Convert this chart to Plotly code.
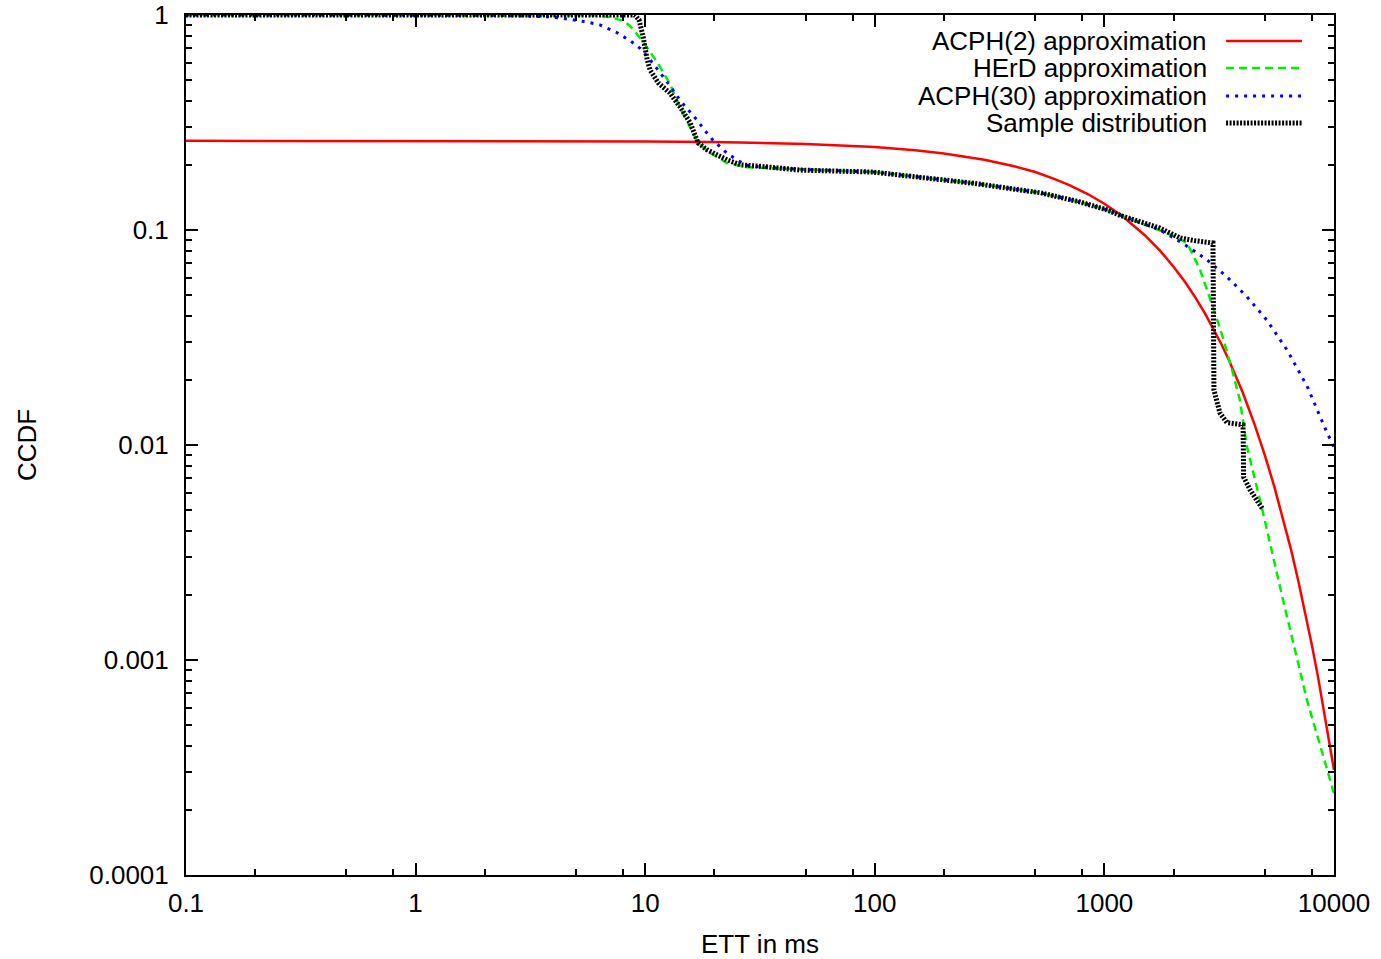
import plotly.graph_objects as go

# ---------------- data ----------------
acph2_x = [0.1, 1, 10, 20, 50, 100, 150, 200, 300, 400, 500, 600, 700, 850, 1000, 1200,
           1500, 1750, 2000, 2250, 2500, 2750, 3000, 3250, 3500, 3750, 4000, 4500, 5000,
           5500, 6000, 6500, 7000, 7500, 8000, 8500, 9000, 9500, 10000]
acph2_y = [0.26, 0.26, 0.258, 0.2565, 0.2514, 0.243, 0.235, 0.227, 0.212, 0.1986, 0.186,
           0.1735, 0.162, 0.1466, 0.1325, 0.1158, 0.0946, 0.080, 0.0675, 0.0571, 0.0482,
           0.0407, 0.0344, 0.0291, 0.0246, 0.0208, 0.0176, 0.01253, 0.00895, 0.00639,
           0.00456, 0.00326, 0.00232, 0.00166, 0.00118, 0.000846, 0.0006, 0.000431,
           0.000308]

herd_x = [0.1, 5, 6, 7, 8, 8.6, 9.8, 11.2, 12.8, 14.2, 15.7, 17, 19.2, 22.7, 27.7, 38.6,
          50, 100, 270, 525, 780, 1000, 1200, 1500, 1750, 2000, 2291, 2600, 2972, 3300,
          3630, 3890, 4180, 4910, 6000, 7630, 10000]
herd_y = [1.0, 1.0, 0.998, 0.98, 0.94, 0.89, 0.75, 0.61, 0.48, 0.37, 0.30, 0.254, 0.228,
          0.205, 0.196, 0.194, 0.191, 0.186, 0.165, 0.149, 0.135, 0.125, 0.116, 0.106,
          0.100, 0.094, 0.087, 0.066, 0.0438, 0.031, 0.0216, 0.0162, 0.0098, 0.00483,
          0.0019, 0.00065, 0.00024]

acph30_x = [0.1, 1, 2, 3, 3.85, 4.7, 5.5, 6.35, 7.5, 8.6, 9.5, 10.5, 11.6, 12.8, 14.2, 15.5,
            16.8, 18.2, 19.7, 22.7, 25, 27.7, 32, 38.6, 50, 100, 270, 525, 780, 1000, 1200,
            1500, 1750, 2070, 2360, 2800, 3420, 4180, 5100, 6240, 7630, 9330, 10000]
acph30_y = [1.0, 1.0, 0.998, 0.99, 0.98, 0.955, 0.93, 0.90, 0.83, 0.76, 0.70, 0.62, 0.54,
            0.47, 0.40, 0.36, 0.325, 0.29, 0.262, 0.228, 0.212, 0.200, 0.196, 0.194, 0.191,
            0.186, 0.165, 0.149, 0.135, 0.125, 0.116, 0.106, 0.100, 0.090, 0.0824, 0.0726,
            0.0605, 0.0489, 0.0381, 0.0277, 0.0188, 0.0114, 0.0098]

sample_x = [0.1, 9.0, 9.4, 9.8, 10.2, 10.5, 11.4, 12.8, 14.2, 15.7, 17, 18.6, 22.7, 26,
            31.6, 38.6, 47, 98, 268, 525, 783, 1026, 1170, 1747, 2135, 2500, 2971, 3000,
            3185, 3420, 4017, 4040, 4305, 4910]
sample_y = [1.0, 1.0, 0.95, 0.79, 0.62, 0.555, 0.483, 0.434, 0.373, 0.315, 0.254, 0.236,
            0.212, 0.201, 0.198, 0.194, 0.190, 0.186, 0.165, 0.149, 0.135, 0.124, 0.117,
            0.102, 0.0918, 0.089, 0.087, 0.018, 0.0141, 0.0127, 0.0124, 0.0071, 0.0062,
            0.0050]

series_names = ["ACPH(2) approximation", "HErD approximation",
                "ACPH(30) approximation", "Sample distribution"]

x_tickvals = [0.1, 1, 10, 100, 1000, 10000]
x_ticktext = ["0.1", "1", "10", "100", "1000", "10000"]
x_minor = [m * d for d in [0.1, 1, 10, 100, 1000] for m in (2, 5, 8)]
y_tickvals = [0.0001, 0.001, 0.01, 0.1, 1]
y_ticktext = ["0.0001", "0.001", "0.01", "0.1", "1"]
y_minor = [m * d for d in [0.0001, 0.001, 0.01, 0.1] for m in range(2, 10)]

# ---------------- styles ----------------
FONT = "Liberation Sans, Arial, Helvetica, sans-serif"
FS = 26
styles = [
    dict(color="#ff0000", width=2.5, dash="solid"),
    dict(color="#00ee00", width=2.5, dash="8px,5px"),
    dict(color="#0000ff", width=3, dash="3px,6px"),
    dict(color="#000000", width=5, dash="2px,1.5px"),
]
data = [(acph2_x, acph2_y), (herd_x, herd_y), (acph30_x, acph30_y), (sample_x, sample_y)]

fig = go.Figure()
for i in range(4):
    xs, ys = data[i]
    fig.add_trace(go.Scatter(x=xs, y=ys, mode="lines", name=series_names[i],
                             line=styles[i], showlegend=False, hoverinfo="skip"))

axis_common = dict(
    type="log", showgrid=False, zeroline=False, showline=True, linecolor="black",
    linewidth=2, mirror="ticks", ticks="inside", ticklen=12, tickwidth=1.5,
    tickcolor="black", tickfont=dict(family=FONT, size=FS, color="black"),
    automargin=False, ticklabeloverflow="allow",
)
fig.update_xaxes(**axis_common, range=[-1, 4], tickmode="array",
                 tickvals=x_tickvals, ticktext=x_ticktext, ticklabelstandoff=4,
                 minor=dict(tickmode="array", tickvals=x_minor, ticks="inside",
                            ticklen=6, tickwidth=1.5, tickcolor="black"))
fig.update_yaxes(**axis_common, range=[-4, 0], tickmode="array",
                 tickvals=y_tickvals, ticktext=y_ticktext, ticklabelstandoff=10,
                 minor=dict(tickmode="array", tickvals=y_minor, ticks="inside",
                            ticklen=6, tickwidth=1.5, tickcolor="black"))

# axis titles
fig.add_annotation(xref="paper", yref="paper", x=0.5, y=-0.0802, text="ETT in ms",
                   showarrow=False, xanchor="center", yanchor="middle",
                   font=dict(family=FONT, size=FS, color="black"))
fig.add_annotation(xref="paper", yref="paper", x=-0.1385, y=0.5, text="CCDF",
                   showarrow=False, xanchor="center", yanchor="middle", textangle=-90,
                   font=dict(family=FONT, size=FS, color="black"))

# ---------------- gnuplot-style key (text right, sample on the right) ----------------
key_rows = [0.9698, 0.9384, 0.9058, 0.8744]
for i, yk in enumerate(key_rows):
    fig.add_annotation(xref="paper", yref="paper", x=0.8911, y=yk, text=series_names[i],
                       showarrow=False, xanchor="right", yanchor="middle",
                       font=dict(family=FONT, size=FS, color="black"))
    fig.add_shape(type="line", xref="paper", yref="paper", x0=0.906, x1=0.9721,
                  y0=yk, y1=yk, line=styles[i])

fig.update_layout(
    width=1381, height=959, paper_bgcolor="white", plot_bgcolor="white",
    margin=dict(l=186, r=47, t=15, b=84), showlegend=False, hovermode=False,
)

# remove the browser's default 8px body margin so the figure fills the window
fig.write_html("out.html", config={"displayModeBar": False},
               post_script="document.body.style.margin='0';document.body.style.overflow='hidden';")
